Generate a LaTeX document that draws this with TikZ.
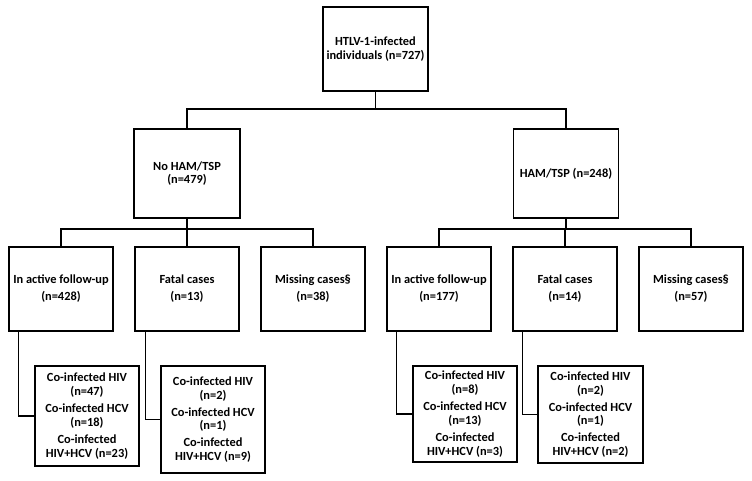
\documentclass[tikz,border=0pt]{standalone}
\usepackage{fontspec}
\setmainfont{Carlito}
\begin{document}
\begin{tikzpicture}[x=1pt,y=-1pt,
  box/.style={draw=black,line width=1.3pt,fill=white,align=center,inner sep=2pt,
    font=\fontsize{12.4}{13.8}\selectfont\bfseries},
  link/.style={draw=black,line width=1.3pt}]
\useasboundingbox[fill=white] (0,0) rectangle (752,481);
% level 0
\node[box,minimum width=105pt,minimum height=84pt] (top) at (375.5,49) {HTLV-1-infected\\individuals (n=727)};
% level 1
\node[box,minimum width=106pt,minimum height=89pt] (nohs) at (187,173.5) {No HAM/TSP\\(n=479)};
\node[box,minimum width=105pt,minimum height=89pt] (hs) at (566,173.5) {HAM/TSP (n=248)};
% level 2
\foreach \n/\x/\a/\b in {l1/61/In active follow-up/(n=428), l2/187/Fatal cases/(n=13), l3/313/Missing cases§/(n=38),
  r1/439/In active follow-up/(n=177), r2/565/Fatal cases/(n=14), r3/691/Missing cases§/(n=57)}
  \node[box,minimum width=104pt,minimum height=84pt] (\n) at (\x,289) {\a\\[3.2pt]\b};
% level 3
\node[box,minimum width=104pt,minimum height=100pt] (s1) at (87,416) {Co-infected HIV\\(n=47)\\[3.2pt]Co-infected HCV\\(n=18)\\[3.2pt]Co-infected\\HIV+HCV (n=23)};
\node[box,minimum width=104pt,minimum height=107pt] (s2) at (213,419.5) {Co-infected HIV\\(n=2)\\[3.2pt]Co-infected HCV\\(n=1)\\[3.2pt]Co-infected\\HIV+HCV (n=9)};
\node[box,minimum width=104pt,minimum height=96pt] (s3) at (465,414) {Co-infected HIV\\(n=8)\\[3.2pt]Co-infected HCV\\(n=13)\\[3.2pt]Co-infected\\HIV+HCV (n=3)};
\node[box,minimum width=105pt,minimum height=97pt] (s4) at (590.5,414.5) {Co-infected HIV\\(n=2)\\[3.2pt]Co-infected HCV\\(n=1)\\[3.2pt]Co-infected\\HIV+HCV (n=2)};
% connectors
\coordinate (j0) at (375.5,109);
\draw[link] (top.south) -- (j0);
\draw[link] (nohs.north) |- (j0) -| (hs.north);
\coordinate (j1) at (187,229);
\draw[link] (nohs.south) -- (l2.north);
\draw[link] (l1.north) |- (j1) -| (l3.north);
\coordinate (j2) at (565,229);
\draw[link] (hs.south) -- (hs.south |- j2);
\draw[link] (r1.north) |- (j2) -| (r3.north);
\draw[link] (r2.north) -- (r2.north |- j2);
\draw[link] ([xshift=10pt]l1.south west) |- (s1.west);
\draw[link] ([xshift=11pt]l2.south west) |- (s2.west);
\draw[link] ([xshift=10pt]r1.south west) |- (s3.west);
\draw[link] ([xshift=10pt]r2.south west) |- (s4.west);
\end{tikzpicture}
\end{document}
